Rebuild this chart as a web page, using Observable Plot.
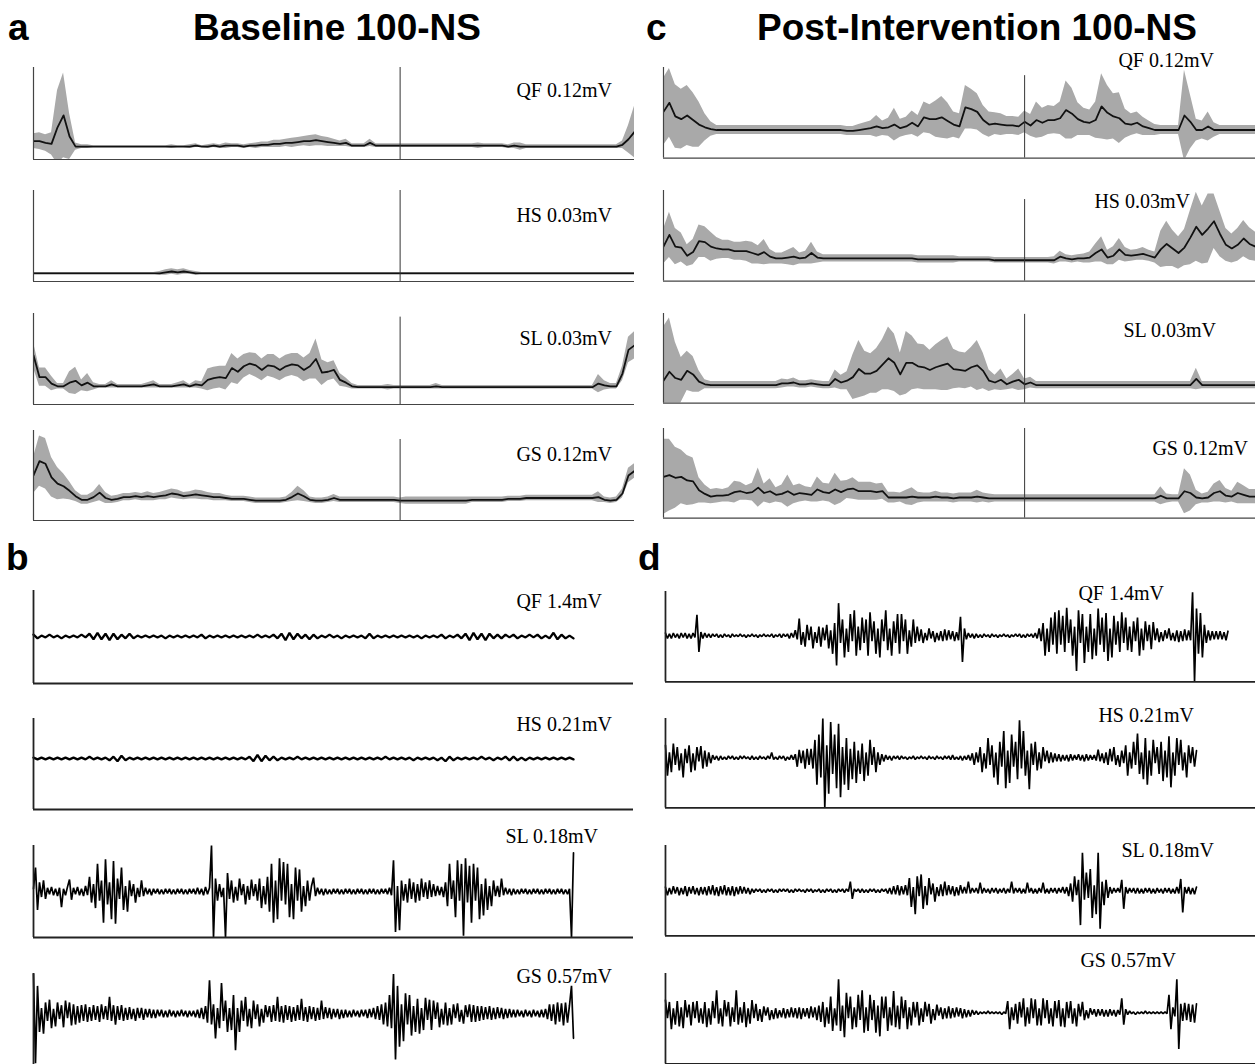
<!DOCTYPE html>
<html><head><meta charset="utf-8">
<script src="https://cdn.jsdelivr.net/npm/d3@7"></script>
<script src="https://cdn.jsdelivr.net/npm/@observablehq/plot@0.6"></script>
<style>
html,body{margin:0;padding:0;background:#fff;overflow:hidden;}
#fig{position:relative;width:1256px;height:1064px;overflow:hidden;background:#fff;}
.t{position:absolute;font-family:"Liberation Sans",Arial,Helvetica,sans-serif;font-weight:bold;font-size:37px;line-height:30px;white-space:nowrap;color:#000;}
.lab{position:absolute;font-family:"Liberation Serif","Times New Roman",serif;font-size:20px;line-height:20px;white-space:nowrap;color:#000;text-align:right;}
.p{position:absolute;}
.p svg{display:block;}
</style></head><body><div id="fig"></div>
<script>
// ---------- DATA ----------
const muscles = ["QF", "HS", "SL", "GS"];
const envScales = ["0.12mV", "0.03mV", "0.03mV", "0.12mV"];
const rawScales = ["1.4mV", "0.21mV", "0.18mV", "0.57mV"];
const titles = {a: "Baseline 100-NS", c: "Post-Intervention 100-NS"};
const eventPct = 61; // vertical event line (% cycle)
const cycle = d3.range(0, 101); // % of cycle

// Panel a (baseline) mean / sd envelopes, % of scale bar
const aQF_mean = [20,20,18,17,35,48,25,14,14,14, 14,14,14,14,14,14,14,14,14,14, 14,14,14,14,14,14,14,15,14,14, 15,14,15,15,15,14,15,15,16,16, 17,17,18,18,19,20,20,21,20,19, 18,17,18,15,15,15,18,15,15,15, 15,15,15,15,15,15,15,15,15,15, 15,15,15,15,15,15,15,15,15,14, 15,14,14,14,14,14,14,14,14,14, 14,14,14,14,14,14,14,14,16,22, 30];
const aQF_sd = [8,9,9,12,40,46,25,4,2,2, 1,1,1,1,1,1,1,1,1,1, 1,1,1,2,1,1,2,2,1,2, 2,2,3,2,2,2,2,3,3,3, 4,4,4,5,5,5,6,6,5,5, 4,3,4,2,2,2,4,2,2,2, 2,2,2,2,2,2,2,2,2,2, 2,2,2,2,3,2,2,2,2,2, 3,4,2,2,2,2,2,2,2,2, 2,2,2,2,2,2,2,2,4,15, 28];
const aHS_mean = [9,9,9,9,9,9,9,9,9,9, 9,9,9,9,9,9,9,9,9,9, 9,9,10,11,10,11,10,9,9,9, 9,9,9,9,9,9,9,9,9,9, 9,9,9,9,9,9,9,9,9,9, 9,9,9,9,9,9,9,9,9,9, 9,9,9,9,9,9,9,9,9,9, 9,9,9,9,9,9,9,9,9,9, 9,9,9,9,9,9,9,9,9,9, 9,9,9,9,9,9,9,9,9,9, 9];
const aHS_sd = [1,1,1,1,1,1,1,1,1,1, 1,1,1,1,1,1,1,1,1,1, 1,2,3,3,3,3,2,2,1,1, 1,1,1,1,1,1,1,1,1,1, 1,1,1,1,1,1,1,1,1,1, 1,1,1,1,1,1,1,1,1,1, 1,1,1,1,1,1,1,1,1,1, 1,1,1,1,1,1,1,1,1,1, 1,1,1,1,1,1,1,1,1,1, 1,1,1,1,1,1,1,1,1,1, 1];
const aSL_mean = [54,30,30,23,20,20,24,26,21,24, 20,20,20,22,20,20,20,20,20,21, 22,20,20,20,21,22,20,22,21,27, 29,30,29,40,36,42,45,43,38,43, 42,38,42,44,43,38,42,50,35,36, 38,27,24,20,19,19,19,19,19,19, 19,19,19,19,19,19,19,20,19,19, 19,19,19,19,19,19,19,19,19,19, 19,19,19,19,19,19,19,19,19,19, 19,19,19,19,23,21,20,20,34,60, 65];
const aSL_sd = [14,10,10,8,3,3,12,15,6,10, 4,2,2,4,2,2,2,2,2,3, 4,2,2,2,3,4,2,4,4,12, 12,12,13,16,14,13,12,13,12,12, 13,12,12,12,13,13,14,22,14,10, 10,7,5,3,2,2,2,2,2,3, 2,2,2,2,2,2,2,3,2,2, 2,2,2,2,2,2,2,2,2,2, 2,2,2,2,2,2,2,2,2,2, 2,2,2,2,10,5,3,3,8,14, 15];
const aGS_mean = [50,66,63,48,41,38,33,27,23,23, 26,31,25,23,24,26,26,27,26,27, 26,27,28,30,29,27,28,29,28,27, 26,26,25,24,24,24,23,22,22,22, 22,22,23,26,30,27,23,22,22,23, 25,23,23,23,23,23,23,23,23,23, 23,22,22,22,22,22,22,22,22,22, 22,22,22,23,23,23,23,23,23,24, 24,24,25,25,25,25,25,25,25,25, 25,25,25,25,26,23,22,23,30,50, 55];
const aGS_sd = [20,28,28,22,18,14,10,6,5,5, 6,9,6,4,4,4,4,4,4,5, 4,4,5,5,5,4,4,5,5,4, 4,4,3,3,3,3,3,3,3,3, 3,3,3,5,8,6,3,3,3,3, 4,3,3,3,3,3,3,3,3,3, 3,3,4,4,4,4,4,4,4,4, 4,4,4,3,3,3,3,3,3,3, 3,3,3,3,3,3,3,3,3,3, 3,3,3,3,6,3,3,3,5,8, 8];

// Panel c (post-intervention) mean / sd envelopes
const cQF_mean = [51,61,46,43,47,42,37,34,32,31, 31,31,31,31,31,31,31,31,31,31, 31,31,31,31,31,31,31,31,31,31, 31,30,30,31,32,33,35,33,34,37, 33,35,39,35,45,43,43,45,41,37, 35,56,54,51,42,37,38,37,36,36, 35,40,36,42,39,42,42,44,53,49, 43,40,39,42,57,50,46,44,38,37, 39,35,33,31,31,31,31,31,47,40, 31,31,35,31,31,31,31,31,31,31, 31];
const cQF_sd = [37,38,35,33,33,30,25,15,8,5, 5,5,5,5,5,5,5,5,5,5, 5,5,5,5,5,5,5,5,5,5, 5,5,5,6,7,8,12,8,10,18, 10,10,13,12,17,16,20,23,20,14, 14,24,22,20,16,14,12,12,10,10, 10,12,12,20,16,16,15,18,32,28, 18,15,14,20,36,30,25,28,16,12, 12,10,8,6,5,5,5,5,50,30, 12,10,16,8,5,5,5,5,5,5, 5];
const cHS_mean = [38,51,38,37,28,32,44,43,38,36, 35,35,33,33,33,31,29,32,27,25, 25,26,27,25,26,31,26,25,25,25, 25,25,25,25,25,25,25,25,25,25, 25,25,25,24,24,24,24,24,24,24, 24,24,24,24,24,24,23,23,23,23, 23,23,23,23,23,23,23,27,25,24, 25,25,26,31,35,26,28,35,29,28, 29,30,28,26,35,41,36,31,37,48, 60,51,58,66,52,40,36,40,47,41, 38];
const cHS_sd = [19,25,20,16,12,14,18,17,16,12, 10,10,10,10,11,12,10,14,8,6, 6,8,10,6,7,12,6,4,4,4, 4,4,4,4,4,4,4,4,4,4, 4,4,4,4,4,4,4,4,4,4, 3,3,3,3,3,3,3,3,3,3, 3,3,3,3,3,3,4,6,4,4, 4,5,6,10,14,8,10,12,8,6, 6,7,6,6,20,25,20,18,20,30, 38,32,38,30,25,18,16,18,20,18, 16];
const cSL_mean = [25,35,28,26,36,32,24,21,20,20, 20,20,20,20,20,20,20,20,20,20, 22,22,23,21,21,22,21,20,20,27, 23,25,29,38,33,33,36,43,50,45, 32,45,45,41,40,37,40,42,44,38, 37,36,40,42,36,25,23,26,21,24, 26,21,23,20,20,20,20,20,20,20, 20,20,20,20,20,20,20,20,20,20, 20,20,20,20,20,20,20,20,20,20, 27,20,20,20,20,20,20,20,20,20, 20];
const cSL_sd = [60,60,40,25,22,20,12,5,4,4, 4,4,4,4,4,4,4,4,4,4, 5,4,5,4,4,4,4,4,4,10, 8,10,25,32,25,22,25,28,35,32, 24,35,30,25,25,22,25,28,30,22, 20,20,22,28,20,12,8,12,6,8, 12,6,6,4,4,4,4,4,4,4, 4,4,4,4,4,4,4,4,4,4, 4,4,4,4,4,4,4,4,4,4, 12,4,4,4,4,4,4,4,4,4, 4];
const cGS_mean = [46,48,45,46,42,41,31,27,24,25, 25,26,29,30,28,29,34,28,30,26, 27,30,26,28,27,26,32,29,28,32, 29,32,33,30,30,30,29,30,23,23, 23,23,24,23,23,23,24,23,23,22, 23,23,23,24,23,22,22,22,22,22, 22,22,22,22,22,22,22,22,22,22, 22,22,22,22,22,22,22,22,22,22, 22,22,22,22,25,22,22,22,30,28, 23,22,23,28,30,25,24,28,26,24, 24];
const cGS_sd = [42,40,34,30,28,26,14,10,8,8, 7,8,12,10,8,10,22,10,14,8, 10,18,10,10,8,8,14,10,10,18, 12,10,12,10,10,10,9,9,6,6, 5,8,10,6,5,5,6,5,5,5, 5,5,5,7,5,5,4,4,4,4, 4,4,4,4,4,4,4,4,4,4, 4,4,4,4,4,4,4,4,4,4, 4,4,4,4,10,5,4,4,25,20, 8,5,6,10,12,8,6,12,10,8, 8];

// Raw EMG traces, % of scale bar, 0 = trace baseline; sample spacing (ms) per trace
const rawSteps = {bQF: 4, bHS: 4, bSL: 2, bGS: 2, dQF: 2, dHS: 2, dSL: 2, dGS: 2};
const bQF = [2,-2,1,-1,2,-1,1,-2,1,-1, 1,-1,2,-1,3,-3,4,-3,3,-4, 3,-3,2,-2,3,-2,1,-1,1,-1, 1,-1,1,-2,1,-1,1,-1,1,-1, 1,-1,2,-2,1,-1,1,-1,1,-1, 1,-1,1,-1,1,-1,2,-1,1,-1, 2,-2,3,-4,4,-3,3,-2,2,-3, 2,-2,1,-1,2,-1,1,-2,1,-1, 1,-1,1,-2,3,-2,1,-1,1,-1, 1,-1,1,-1,1,-1,1,-2,1,-1, 1,-1,2,-2,1,-1,2,-2,3,-4, 4,-3,3,-4,3,-2,2,-2,2,-1, 2,-2,1,-1,2,-1,2,-2,1,-2, 4,-3,2,-2,1,-2];
const bHS = [1,-1,1,-1,1,-1,1,-1,1,-1, 1,-1,1,-1,2,-1,1,-1,1,-2, 2,-3,3,-2,1,-1,1,-1,1,-1, 1,-1,1,-1,1,-1,1,-1,1,-1, 1,-1,1,-1,1,-1,1,-1,1,-1, 1,-1,1,-1,2,-3,4,-3,3,-2, 2,-2,1,-1,1,-1,2,-1,1,-1, 1,-1,1,-1,1,-1,1,-1,1,-1, 1,-1,1,-1,1,-1,1,-1,2,-1, 1,-1,1,-1,1,-2,1,-1,1,-1, 1,-2,1,-3,2,-2,1,-1,1,-1, 1,-1,2,-1,1,-2,1,-1,2,-2, 2,-2,1,-2,1,-1,1,-1,1,-1, 1,-1,1,-1,1,-1];
const bSL = [
  3,26,-20,10,-6,12,-8,4,-3,5,-4,3,-5,4,-17,3,-4,5,13,-9,
  4,-3,5,-4,3,-5,6,-4,16,-12,8,-18,30,-10,12,-34,35,-14,10,-30,
  33,-35,14,-8,26,-20,6,-22,12,-5,8,-12,4,-6,12,-5,4,-3,3,-4,
  3,-2,3,-3,2,-3,3,-2,3,-3,2,-3,3,-2,3,-3,2,-3,3,-2,
  3,-3,4,-3,3,-4,5,-3,4,50,-50,14,-10,8,-6,4,-50,20,-8,12,
  -12,5,-10,14,-4,8,-14,6,-9,13,-5,8,-10,14,-18,6,-14,16,-22,30,
  -34,12,-30,36,-10,32,-14,30,-28,8,-30,26,-10,24,-22,6,-16,12,-10,6,
  15,-5,4,-3,3,-4,3,-3,2,-3,3,-2,3,-3,2,-3,3,-2,3,-3,
  2,-3,3,-2,3,-3,2,-3,3,-2,3,-3,2,-3,3,-2,3,-3,4,-4,
  34,-44,6,-42,12,-10,8,-12,14,-8,10,-12,8,-10,14,-6,10,-8,12,-6,
  8,-5,6,-4,5,-6,10,-16,30,-8,12,-28,34,-10,30,-48,36,-12,28,-34,
  30,-10,26,-30,8,-26,14,-20,6,-16,12,-5,6,-6,14,-4,4,-3,3,-4,
  3,-3,2,-3,3,-2,3,-3,2,-3,3,-2,3,-3,2,-3,3,-2,3,-3,
  2,-3,3,-2,3,-3,2,-3,3,-50,42];
const bGS = [
  43,-54,30,-20,6,-22,12,-8,15,-16,5,-14,12,-6,9,-15,14,-5,12,-13,
  10,-12,8,-10,9,-8,10,-9,7,-8,9,-7,8,-9,10,-6,8,-7,18,-8,
  9,-12,8,-7,9,-8,6,-7,7,-6,5,-8,6,-5,6,-7,5,-4,5,-5,
  4,-5,4,-3,4,-4,3,-4,4,-3,3,-4,3,-3,4,-3,3,-4,3,-3,
  3,-4,4,-5,6,-6,8,-10,36,-12,10,-27,6,-16,33,-8,14,-20,6,-18,
  20,-40,6,-20,14,-8,18,-14,5,-16,14,-6,10,-14,5,-10,9,-4,8,-9,
  9,-8,18,-9,8,-10,9,-7,8,-9,7,-8,9,-7,16,-8,7,-9,8,-6,
  7,-8,6,-7,14,-6,7,-5,6,-6,5,-4,5,-6,4,-5,4,-4,3,-4,
  4,-3,3,-4,4,-3,4,-5,5,-4,6,-6,8,-7,10,-12,12,-14,20,-16,
  43,-50,30,-36,10,-30,22,-12,20,-24,8,-20,16,-22,6,-18,17,-7,15,-18,
  14,-6,12,-15,5,-12,12,-13,6,-12,10,-5,11,-9,4,-11,9,-4,10,-9,
  9,-9,8,-8,8,-7,7,-6,8,-7,6,-6,7,-5,6,-6,5,-5,5,-4,
  4,-4,4,-3,3,-4,4,-3,3,-4,4,-3,3,-4,4,-4,5,-6,10,-8,
  10,-12,12,-9,11,-13,12,-10,9,30,-27];
const dQF = [
  3,-3,2,-3,3,-2,2,-3,3,-2,3,-3,2,-3,3,-2,23,-18,4,-3,
  3,-2,2,-2,2,-1,2,-2,1,-2,2,-1,1,-2,2,-1,1,-1,2,-1,
  1,-2,1,-1,2,-1,1,-2,1,-1,2,-1,1,-1,2,-2,1,-1,2,-2,
  2,-1,2,-3,3,-2,6,-4,19,-10,4,-12,12,-5,10,-14,4,-8,10,-12,
  9,-5,12,-14,6,-20,14,-33,36,-8,18,-24,8,-18,24,-6,28,-22,10,-16,
  20,-8,18,-22,26,-6,16,-20,8,-24,18,-6,28,-16,8,-22,16,-8,24,-20,
  24,-6,18,-20,6,-12,18,-8,10,-6,7,-8,3,-5,8,-3,5,-7,3,-5,
  5,-6,7,-5,6,-4,5,-6,4,-5,21,-29,8,-4,3,-2,2,-3,2,-2,
  1,-2,2,-1,1,-2,2,-1,1,-2,1,-1,2,-1,1,-2,1,-1,2,-1,
  2,-2,1,-2,2,-1,2,-2,3,-3,8,-6,14,-22,8,-18,20,-10,26,-20,
  28,-10,22,-18,31,-8,18,-22,10,-39,28,-8,24,-30,10,-18,24,-26,8,-22,
  30,-10,20,-18,25,-28,8,-24,22,-10,16,-18,26,-8,20,-16,10,-18,16,-6,
  20,-22,8,-16,16,-6,12,-15,15,-5,8,-7,4,-6,6,-3,8,-5,3,-6,
  6,-7,5,-6,7,-5,6,-5,48,-51,30,-20,25,-24,12,-8,6,-5,5,-4,
  5,-4,5,-4,4,-5,5];
const dHS = [
  14,-20,6,-16,16,-8,12,-14,5,-22,10,-6,14,-16,5,-14,12,-4,13,-12,
  8,-10,6,-6,3,-2,2,-3,2,-2,1,-2,2,-1,2,-2,1,-2,2,-1,
  2,-1,1,-2,2,-2,1,-2,2,-1,1,-2,2,-1,6,-2,1,-2,2,-1,
  2,-3,1,-2,3,-2,4,-10,9,-6,8,-12,10,-8,10,-12,20,-30,26,-22,
  44,-56,14,-40,40,-18,26,-34,38,-44,12,-30,22,-36,10,-24,18,-28,8,-18,
  16,-26,6,-20,20,-8,12,-16,6,-8,4,-4,3,-2,2,-3,2,-1,2,-2,
  2,-1,1,-2,1,-1,2,-2,1,-1,2,-1,1,-2,2,-1,1,-2,2,-1,
  1,-2,2,-1,2,-2,3,-2,1,-2,2,-3,2,-2,3,-3,5,-8,6,-5,
  12,-16,5,-12,22,-8,14,-22,6,-30,18,-10,30,-34,8,-28,26,-10,18,-24,
  42,-12,30,-20,8,-35,16,-8,18,-14,6,-12,12,-4,8,-6,6,-5,5,-4,
  4,-4,3,-3,3,-4,4,-3,3,-2,4,-3,3,-4,4,-3,3,-2,3,-3,
  9,-4,5,-6,6,-8,10,-4,12,-8,3,-10,8,-6,14,-20,6,-12,18,-8,
  27,-18,6,-24,22,-30,8,-20,20,-6,12,-18,18,-26,8,-22,24,-33,6,-20,
  22,-8,20,-14,6,-22,14,-6,12,-10,8];
const dSL = [
  4,-5,3,-4,5,-3,4,-5,3,-4,5,-6,4,-3,5,-4,3,-5,4,-4,
  4,-5,5,-4,6,-5,4,-6,5,-4,6,-5,4,-5,5,-6,4,-4,5,-3,
  4,-3,3,-4,2,-2,2,-1,2,-2,1,-2,2,-1,2,-2,1,-2,2,-1,
  2,-1,2,-2,1,-2,2,-1,2,-1,1,-2,2,-1,2,-2,1,-1,2,-2,
  1,-2,2,-1,2,-2,1,-2,2,-1,2,-2,2,-1,10,-9,2,-1,2,-2,
  2,-2,1,-2,2,-1,2,-2,1,-2,2,-1,2,-3,3,-4,5,-4,6,-5,
  5,-4,6,-5,14,-18,4,-26,16,-6,18,-20,5,-16,14,-4,8,-12,4,-6,
  7,-6,10,-5,6,-4,5,-6,4,-5,6,-3,4,-3,10,-3,3,-2,3,-3,
  9,-3,3,-2,2,-3,3,-2,3,-3,2,-2,3,-3,2,-2,10,-3,3,-2,
  3,-3,2,-3,9,-2,3,-3,2,-3,3,-2,9,-3,2,-3,3,-2,3,-3,
  3,-2,4,-3,4,-6,8,-12,16,-5,12,-38,42,-10,20,-8,24,-30,6,-26,
  42,-42,10,-16,12,-8,4,-3,3,-2,3,-2,12,-20,4,-3,3,-2,3,-3,
  3,-3,2,-3,3,-2,3,-3,2,-3,3,-2,2,-3,3,-2,3,-3,2,-3,
  4,-3,13,-24,4,-3,4,-4,3,-4,4];
const dGS = [
  14,-6,12,-18,5,-13,13,-15,6,-17,14,-5,9,-14,12,-6,13,-11,5,-12,
  12,-16,5,-13,13,-6,25,-12,5,-15,14,-4,12,-15,6,-10,25,-13,6,-11,
  12,-16,5,-12,14,-6,10,-9,4,-10,7,-3,6,-8,3,-7,5,-6,3,-5,
  5,-6,4,-5,6,-5,5,-6,6,-7,5,-4,5,-6,7,-5,6,-8,8,-10,
  12,-16,6,-12,18,-20,5,-14,37,-20,8,-27,22,-6,18,-18,6,-16,20,-8,
  25,-22,6,-20,20,-8,14,-22,8,-26,18,-6,18,-20,6,-14,24,-16,8,-18,
  18,-6,14,-18,6,-14,12,-5,12,-14,5,-10,12,-4,10,-12,4,-8,9,-3,
  6,-7,5,-6,7,-6,5,-5,6,-4,5,-6,4,-5,3,-4,3,-2,2,-2,
  1,-1,1,-1,2,-1,1,-1,1,-1,1,-2,1,-1,13,-18,6,-8,10,-12,
  12,-5,16,-15,6,-12,16,-6,15,-14,5,-14,16,-6,14,-12,5,-15,13,-6,
  14,-15,5,-16,12,-6,13,-12,5,-15,10,-4,12,-8,3,-6,5,-2,4,-4,
  4,-3,4,-4,3,-4,4,-3,3,-4,3,-2,16,-13,4,-2,2,-1,1,-2,
  1,-1,1,-1,2,-1,1,-1,1,-1,1,-1,1,-1,1,-1,20,-18,6,-4,
  37,-40,10,-9,11,-8,10,-10,9,-11,10];

// ---------- LAYOUT ----------
const fig = document.getElementById("fig");
function addText(cls, text, style) {
  const d = document.createElement("div");
  d.className = cls; d.textContent = text;
  Object.assign(d.style, style);
  fig.appendChild(d);
}
function place(el, left, top) {
  const d = document.createElement("div");
  d.className = "p"; d.style.left = left + "px"; d.style.top = top + "px";
  d.appendChild(el); fig.appendChild(d);
}
function label(text, rightX, baseline) {
  addText("lab", text, {right: (1256 - rightX) + "px", top: (baseline - 16.75) + "px"});
}

const ENV_W = 601;
function envPlot(mean, sd, vtop, H) {
  const rows = cycle.map((t, i) => ({t, m: mean[i], lo: mean[i] - sd[i], hi: mean[i] + sd[i]}));
  return Plot.plot({
    width: ENV_W + 2, height: H + 2,
    marginLeft: 1, marginRight: 1, marginTop: 1, marginBottom: 1,
    style: {background: "transparent", overflow: "visible"},
    x: {domain: [0, 100], axis: null},
    y: {domain: [0, 100], axis: null},
    marks: [
      Plot.areaY(rows, {x: "t", y1: "lo", y2: "hi", fill: "#a9a9a9", clip: true}),
      Plot.lineY(rows, {x: "t", y: "m", stroke: "#111", strokeWidth: 1.8, clip: true}),
      Plot.ruleX([{x: eventPct, y1: 0, y2: vtop}], {x: "x", y1: "y1", y2: "y2", stroke: "#333", strokeWidth: 1}),
      Plot.ruleX([0], {stroke: "#444", strokeWidth: 1.2}),
      Plot.ruleY([0], {stroke: "#444", strokeWidth: 1.2})
    ]
  });
}
function tracePlot(vals, step, base, top, bottom) {
  const H = bottom - top;
  const lo = -(bottom - base) / H * 100, hi = (base - top) / H * 100;
  const rows = vals.map((v, i) => ({t: i * step, v}));
  return Plot.plot({
    width: 602, height: H + 2,
    marginLeft: 1, marginRight: 1, marginTop: 1, marginBottom: 1,
    style: {background: "transparent", overflow: "visible"},
    x: {domain: [0, 600], axis: null},
    y: {domain: [lo, hi], axis: null},
    marks: [
      Plot.lineY(rows, {x: "t", y: "v", stroke: "#000", strokeWidth: step > 2 ? 2.3 : 1.7, strokeLinejoin: "miter"}),
      Plot.ruleX([0], {stroke: "#222", strokeWidth: 1.8}),
      Plot.ruleY([lo], {stroke: "#222", strokeWidth: 1.8})
    ]
  });
}

// titles & panel letters (baseline ~40.5 / 570)
addText("t", "a", {left: "8px", top: "13px"});
addText("t", titles.a, {left: "337px", top: "13px", transform: "translateX(-50%)"});
addText("t", "c", {left: "646px", top: "13px"});
addText("t", titles.c, {left: "977px", top: "13px", transform: "translateX(-50%)"});
addText("t", "b", {left: "6px", top: "542.5px"});
addText("t", "d", {left: "638px", top: "542.5px"});

// envelope panels
const envA = [
  {mean: aQF_mean, sd: aQF_sd, top: 67, bottom: 159, vtop: 100, lab: [612, 97]},
  {mean: aHS_mean, sd: aHS_sd, top: 190, bottom: 281, vtop: 100, lab: [612, 222]},
  {mean: aSL_mean, sd: aSL_sd, top: 313, bottom: 404, vtop: 96, lab: [612, 345]},
  {mean: aGS_mean, sd: aGS_sd, top: 430, bottom: 520, vtop: 90, lab: [612, 461]}
];
const envC = [
  {mean: cQF_mean, sd: cQF_sd, top: 67, bottom: 159, vtop: 91, lab: [1214, 66.5]},
  {mean: cHS_mean, sd: cHS_sd, top: 190, bottom: 282, vtop: 90, lab: [1190, 208]},
  {mean: cSL_mean, sd: cSL_sd, top: 313, bottom: 404, vtop: 99, lab: [1216, 337]},
  {mean: cGS_mean, sd: cGS_sd, top: 428, bottom: 519, vtop: 100, lab: [1248, 455]}
];
envA.forEach((e, k) => {
  place(envPlot(e.mean, e.sd, e.vtop, e.bottom - e.top), 32, e.top - 1);
  label(muscles[k] + " " + envScales[k], e.lab[0], e.lab[1]);
});
envC.forEach((e, k) => {
  place(envPlot(e.mean, e.sd, e.vtop, e.bottom - e.top), 662, e.top - 1);
  label(muscles[k] + " " + envScales[k], e.lab[0], e.lab[1]);
});

// raw EMG panels
const rawB = [
  {vals: bQF, step: rawSteps.bQF, top: 590, bottom: 683, base: 636, lab: [602, 608]},
  {vals: bHS, step: rawSteps.bHS, top: 718, bottom: 809, base: 758, lab: [612, 731]},
  {vals: bSL, step: rawSteps.bSL, top: 845, bottom: 937, base: 891, lab: [598, 843]},
  {vals: bGS, step: rawSteps.bGS, top: 973, bottom: 1065, base: 1013, lab: [612, 983]}
];
const rawD = [
  {vals: dQF, step: rawSteps.dQF, top: 591, bottom: 683, base: 636, lab: [1164, 600]},
  {vals: dHS, step: rawSteps.dHS, top: 718, bottom: 809, base: 758, lab: [1194, 722]},
  {vals: dSL, step: rawSteps.dSL, top: 845, bottom: 937, base: 891, lab: [1214, 857]},
  {vals: dGS, step: rawSteps.dGS, top: 973, bottom: 1065, base: 1013, lab: [1176, 967]}
];
rawB.forEach((r, k) => {
  place(tracePlot(r.vals, r.step, r.base, r.top, r.bottom), 32, r.top - 1);
  label(muscles[k] + " " + rawScales[k], r.lab[0], r.lab[1]);
});
rawD.forEach((r, k) => {
  place(tracePlot(r.vals, r.step, r.base, r.top, r.bottom), 664, r.top - 1);
  label(muscles[k] + " " + rawScales[k], r.lab[0], r.lab[1]);
});
</script></body></html>
